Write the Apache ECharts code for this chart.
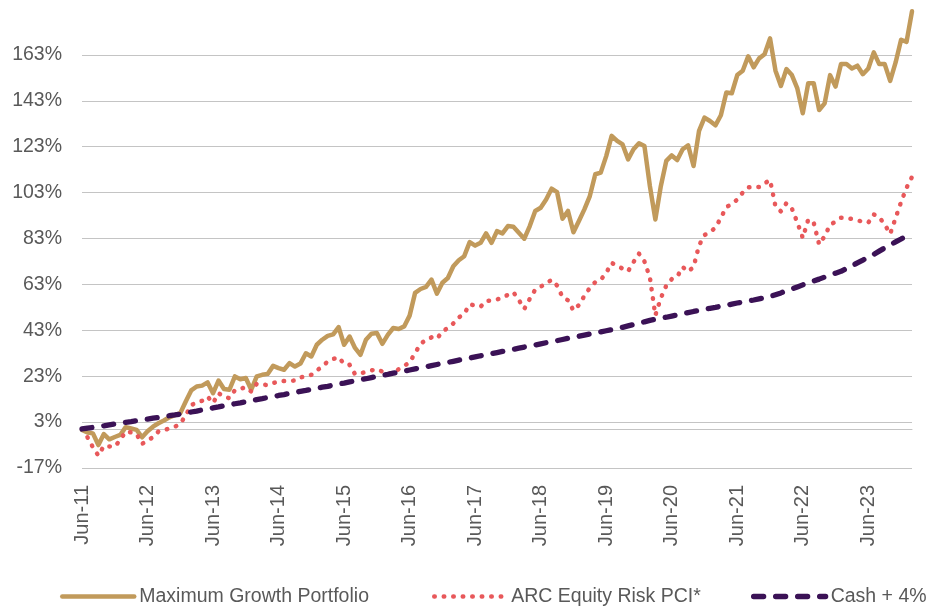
<!DOCTYPE html>
<html>
<head>
<meta charset="utf-8">
<script src="https://cdn.jsdelivr.net/npm/echarts@6/dist/echarts.min.js"></script>
<style>
html,body{margin:0;padding:0;background:#fff;}
#chart{width:938px;height:608px;}
</style>
</head>
<body>
<div id="chart"></div>
<script>
// Month categories Jun-11 .. Feb-24
var monthNames = ['Jan','Feb','Mar','Apr','May','Jun','Jul','Aug','Sep','Oct','Nov','Dec'];
var categories = [];
(function(){
  var m = 5, y = 11;
  for (var k = 0; k < 153; k++) {
    categories.push(monthNames[m] + '-' + (y < 10 ? '0' + y : y));
    m++; if (m === 12) { m = 0; y++; }
  }
})();

var yTicks = [-17, 3, 23, 43, 63, 83, 103, 123, 143, 163];

var maxGrowth = [
-0.4, -1.5, -1.9, -7.0, -2.2, -4.5, -3.5, -2.6, 0.8, 0.2,
-0.4, -3.6, -1.0, 1.0, 2.5, 3.7, 5.1, 6.0, 6.9, 12.0,
16.8, 18.5, 18.9, 20.3, 15.6, 21.1, 17.4, 17.1, 22.9, 21.7,
22.2, 17.1, 22.9, 23.6, 24.0, 27.5, 26.5, 25.8, 28.7, 27.2,
28.5, 33.0, 31.6, 36.7, 38.9, 40.6, 41.2, 44.4, 36.7, 40.3,
35.3, 32.3, 38.9, 41.5, 41.8, 37.1, 41.0, 44.0, 43.6, 44.7,
49.4, 59.3, 61.0, 61.9, 65.1, 59.0, 63.7, 65.8, 70.9, 73.5,
75.3, 81.4, 79.9, 81.1, 85.2, 81.1, 86.2, 85.2, 88.4, 88.1,
85.5, 82.9, 88.4, 95.0, 96.4, 100.0, 104.7, 103.2, 91.6, 95.0,
85.7, 90.6, 95.7, 101.5, 111.0, 111.7, 118.9, 127.7, 125.5, 124.0,
117.5, 121.9, 124.5, 123.3, 105.8, 91.3, 105.8, 116.8, 119.2, 117.2,
121.9, 123.6, 114.6, 129.9, 135.7, 134.2, 132.3, 136.7, 146.6, 146.3,
154.2, 156.1, 162.4, 157.6, 161.5, 163.3, 170.2, 156.1, 149.5, 156.8,
154.2, 148.4, 137.6, 150.7, 150.7, 139.0, 141.9, 154.2, 149.2, 159.0,
159.0, 157.1, 158.3, 154.6, 157.1, 164.1, 159.0, 159.0, 151.7, 159.7,
169.6, 168.7, 182.0
];

var arcEquity = [
null, -3.6, -8.0, -11.6, -7.4, -7.6, -7.7, -4.8, -1.1, -1.5,
-2.2, -6.5, -5.0, -3.6, -1.1, -0.5, 0.2, 1.0, 2.2, 6.0,
10.4, 11.5, 12.3, 14.1, 11.3, 15.6, 14.0, 13.4, 16.9, 17.5,
18.2, 16.3, 19.7, 19.4, 19.1, 20.0, 20.7, 20.9, 21.0, 21.1,
22.5, 22.9, 23.6, 25.5, 27.2, 29.4, 30.5, 31.3, 28.3, 28.0,
23.9, 24.3, 24.8, 25.5, 26.1, 25.0, 24.5, 24.0, 26.1, 27.5,
29.0, 33.1, 37.0, 39.0, 39.9, 39.3, 42.5, 44.0, 46.0, 48.6,
50.2, 54.3, 53.8, 53.3, 55.8, 56.0, 56.5, 57.1, 58.5, 59.6,
56.2, 52.3, 56.7, 60.7, 62.0, 63.5, 65.0, 62.5, 57.5, 56.1,
51.6, 54.0, 58.0, 61.5, 64.0, 65.0, 68.0, 72.4, 71.0, 69.9,
68.7, 72.7, 76.4, 73.0, 66.0, 49.5, 57.0, 62.5, 65.3, 66.3,
70.6, 68.6, 70.6, 80.0, 84.5, 85.8, 87.7, 92.0, 96.7, 98.0,
100.0, 103.0, 105.3, 105.6, 105.4, 107.0, 108.5, 97.0, 94.8, 98.4,
96.1, 90.0, 83.3, 91.3, 89.9, 80.4, 84.0, 89.0, 90.3, 92.0,
92.0, 91.5, 90.9, 90.3, 89.9, 93.5, 92.3, 89.1, 85.0, 92.0,
98.9, 105.1, 109.8
];

var cashPlus4 = [
0.0, 0.4, 0.7, 1.1, 1.4, 1.8, 2.2, 2.5, 2.9, 3.2,
3.6, 4.0, 4.3, 4.7, 5.0, 5.4, 5.8, 6.1, 6.5, 6.9,
7.4, 7.8, 8.3, 8.7, 9.2, 9.6, 10.1, 10.5, 11.0, 11.4,
11.9, 12.3, 12.8, 13.2, 13.7, 14.1, 14.6, 15.0, 15.5, 15.9,
16.4, 16.8, 17.3, 17.7, 18.2, 18.6, 19.1, 19.6, 20.0, 20.5,
21.0, 21.5, 21.9, 22.4, 22.9, 23.4, 23.8, 24.3, 24.8, 25.2,
25.7, 26.2, 26.7, 27.1, 27.6, 28.1, 28.6, 29.0, 29.5, 30.0,
30.5, 30.9, 31.4, 31.9, 32.3, 32.8, 33.3, 33.8, 34.2, 34.7,
35.2, 35.7, 36.1, 36.6, 37.1, 37.6, 38.0, 38.5, 39.0, 39.5,
39.9, 40.4, 40.9, 41.4, 41.8, 42.3, 42.8, 43.3, 43.7, 44.3,
44.9, 45.5, 46.1, 46.7, 47.3, 47.8, 48.3, 48.7, 49.2, 49.7,
50.2, 50.7, 51.2, 51.6, 52.1, 52.6, 53.0, 53.5, 53.9, 54.4,
54.9, 55.3, 55.8, 56.2, 56.7, 57.2, 57.7, 58.5, 59.3, 60.2,
61.0, 61.9, 62.8, 63.7, 64.5, 65.3, 66.2, 67.0, 67.9, 68.7,
69.9, 71.1, 72.4, 73.6, 74.9, 76.1, 77.5, 78.9, 80.2, 81.5,
82.8, 84.2, 85.5
];

var seriesNames = ['Maximum Growth Portfolio', 'ARC Equity Risk PCI*', 'Cash + 4%'];
var colors = ['#C19A5B', '#E8585A', '#3B1256'];

var chart = echarts.init(document.getElementById('chart'), null, {renderer: 'canvas'});
var textColor = '#595959';
var font = 'Liberation Sans, Arial, sans-serif';
var gridColor = '#C4C4C4';

var splitColors = [];
for (var i = 0; i < 10; i++) splitColors.push(gridColor);
splitColors.push('rgba(0,0,0,0)');

function legendAt(name, left) {
  return {
    data: [name],
    left: left,
    top: 586.5,
    padding: 0,
    itemWidth: 72,
    itemHeight: 22,
    itemGap: 0,
    itemStyle: {opacity: 0},
    lineStyle: {width: 'inherit'},
    textStyle: {color: textColor, fontSize: 19.5, fontFamily: font}
  };
}

chart.setOption({
  animation: false,
  color: colors,
  grid: {left: 82, right: 26, top: 9, bottom: 140, containLabel: false},
  legend: [
    legendAt(seriesNames[0], 60),
    legendAt(seriesNames[1], 432),
    legendAt(seriesNames[2], 751)
  ],
  xAxis: {
    type: 'category',
    data: categories,
    boundaryGap: false,
    axisLine: {show: true, lineStyle: {color: gridColor, width: 1}},
    axisTick: {show: false},
    splitLine: {show: false},
    axisLabel: {
      interval: 11,
      rotate: 90,
      margin: 17,
      color: textColor,
      fontSize: 20,
      fontFamily: font
    }
  },
  yAxis: {
    type: 'value',
    min: yTicks[0],
    max: 183,
    interval: 20,
    axisLine: {show: false},
    axisTick: {show: false},
    splitLine: {show: true, lineStyle: {color: splitColors, width: 1}},
    axisLabel: {
      margin: 20,
      color: textColor,
      fontSize: 19.5,
      fontFamily: font,
      showMaxLabel: false,
      formatter: function (v) { return v + '%'; }
    }
  },
  series: [
    {
      name: seriesNames[0],
      type: 'line',
      data: maxGrowth,
      symbol: 'none',
      lineStyle: {color: colors[0], width: 4.5, join: 'round', cap: 'round'}
    },
    {
      name: seriesNames[1],
      type: 'line',
      data: arcEquity,
      symbol: 'none',
      lineStyle: {color: colors[1], width: 4.5, type: [0.5, 9], cap: 'round', join: 'round'}
    },
    {
      name: seriesNames[2],
      type: 'line',
      data: cashPlus4,
      symbol: 'none',
      lineStyle: {color: colors[2], width: 5.3, type: [10, 12], cap: 'round', join: 'round'}
    }
  ]
});
</script>
</body>
</html>
